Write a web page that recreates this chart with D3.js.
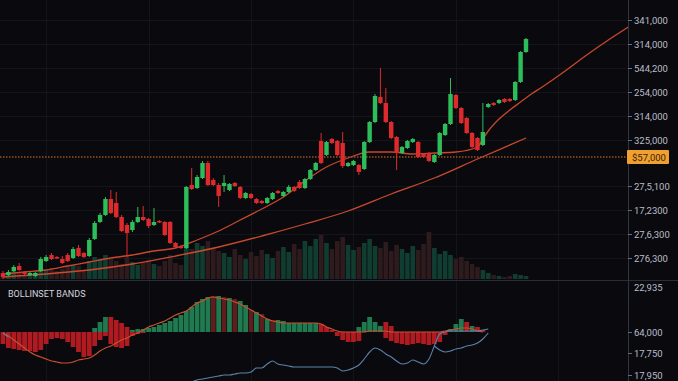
<!DOCTYPE html>
<html><head><meta charset="utf-8">
<script src="https://cdn.jsdelivr.net/npm/d3@7/dist/d3.min.js"></script>
<style>html,body{margin:0;padding:0;background:#0a0a0e;overflow:hidden}svg{display:block}</style>
</head><body>
<script>
// ---- price candles (arbitrary price units) ----
const open = [7,5,9,14,8,5,4,9,19,25, 23,21,25,22,32,27,24,41,58,65, 81,77,63,55,50,58,63,61,55,59, 58,58,37,34,32,95,92,102,117,100,
  95,94,90,97,93,82,86,81,79,77, 81,89,84,88,93,98,92,101,110,139, 125,141,139,137,114,115,115,111,138,158, 183,177,158,143,127,132,138,138,126,127,
  118,125,145,156,185,172,162,147,142,135, 173,177,177,181,181,180,198,228];
const close = [3,8,13,10,6,7,7,21,23,21, 22,17,19,31,24,23,40,57,65,81, 67,63,49,47,58,63,60,54,58,58, 45,37,33,32,93,91,103,117,95,95,
  84,97,96,94,82,87,82,77,77,82, 87,87,88,93,89,92,101,110,117,117, 138,137,125,114,117,119,108,138,158,184, 177,158,142,127,133,139,141,123,123,119,
  125,147,156,186,172,157,147,133,130,148, 176,175,180,178,179,198,228,241];
const high = [9,10,15,17,9,8,8,23,25,27, 24,24,27,33,35,28,42,59,67,83, 90,88,65,57,60,73,74,62,72,60, 59,59,38,35,94,112,105,119,119,102,
  97,105,97,98,94,88,87,82,80,83, 88,90,89,95,94,100,102,111,118,147, 139,142,140,148,118,120,116,139,159,186, 212,192,159,144,134,140,142,139,127,128,
  126,148,157,202,186,173,163,148,143,177, 177,178,181,182,182,199,229,242];
const low = [1,4,8,9,5,4,3,8,18,20, 21,16,18,21,23,22,23,40,57,64, 66,62,48,23,48,57,59,52,54,57, 44,36,32,31,31,90,91,101,94,94,
  73,88,89,93,81,81,81,76,76,76, 80,86,83,87,88,91,91,100,109,116, 124,136,124,112,113,114,105,110,137,157, 176,157,141,110,126,131,137,122,122,118,
  117,124,144,155,171,156,146,132,129,134, 172,174,176,177,178,179,197,227];
const volume = [5,6,8,7,4,5,6,12,9,11, 8,10,12,14,13,9,18,22,20,24, 20,18,15,22,17,14,16,19,15,13, 18,24,16,14,34,30,36,33,38,31,
  28,26,22,30,24,20,27,23,29,25, 21,28,32,27,35,30,38,33,40,44, 36,30,38,42,34,29,32,36,40,33, 31,37,28,34,30,26,33,29,35,47,
  31,25,28,24,20,22,18,15,12,9, 6,4,3,2,3,5,4,3];

// moving averages: candle index positions and values
const maFastAt = [0,4,8,12,16,20,24,28,32,36,40,44,48,52,56,60,64,68,72,76,80,84,88,89,90,92,94,96,98,100,104,108,112,116];
const maFast =   [6,8,10,14,18,22,25,29,32,40,49,60,71,83,99,113,122,128,128,126,127,128,133,141,149,161,170,178,186,193,208,224,239,253];
const maSlowAt = [0,8,16,24,32,40,48,56,64,72,80,88,97];
const maSlow =   [3,6,10,16,24,33,44,56,69,86,102,121,142];

const priceLine = 123;
const priceTag = "$57,000";
const priceTickValues = [260,236,212,188,164,140,94,70,46,22];
const priceTickLabels = ["341,000","314,000","544,200","254,000","314,000","325,000","27,5,100","17,2300","27,6,300","276,300"];

// ---- lower indicator panel ----
const histPos = [0,0,0,0,0,0,0,0,0,0, 0,0,0,0,0,0,0,4,10,15, 15,12,9,5,2,3,3,4,5,7, 9,11,14,17,21,25,30,33,35,36,
  36,35,34,33,31,27,22,20,18,13, 12,12,11,9,9,9,9,9,9,8, 5,2,0,0,0,0,5,10,15,10, 6,10,6,0,0,0,0,0,0,0, 0,0,0,3,8,13,10,6,5,2];
const histPosColor = "gggggggggg"+"gggggggggg"+"rrrrgggggg"+"gggggggggd"+"gdgdggdgdg"+"dggggggggr"+"rrgggggggg"+"grrggggggg"+"ggggggrgrr";
const histNeg = [12,16,17,18,19,19,20,18,12,7, 6,7,10,15,20,25,24,14,8,4, 12,15,16,14,4,2,1,0,0,0, 0,0,0,0,0,0,0,0,0,0,
  0,0,0,0,0,0,0,0,0,0, 0,0,0,0,0,0,0,0,0,0, 0,0,4,8,10,10,9,0,0,0, 0,6,9,11,12,13,12,11,12,13, 12,10,3,0,0,0,0,0,0,0];
const signal = [-1,-4,-8,-12,-16,-20,-23,-25,-27,-29, -30,-31,-31,-30,-28,-27,-26,-23,-19,-16, -14,-11,-8,-6,-3,-1,2,5,7,9,
  11,14,17,19,21,25,29,31,34,35, 34,33,32,30,28,25,22,19,16,13, 11,10,9,9,9,9,9,9,9,8, 5,3,1,0,0,0,0,0,1,1,
  1,1,0,0,0,0,0,0,0,0, 0,0,1,2,3,4,4,3,1,0];
const N = null;
const bandLine = [-1,-5,N,N,N,N,N,N,N,N, N,N,N,N,N,N,N,N,N,N, N,N,N,N,N,N,N,N,N,N, N,N,N,N,-52,-50,-48,-47,-46,-45,
  -44,-43,-43,-42,-41,-41,-40,-36,-36,-32, -29,-32,-33,-34,-35,-35,-35,-35,-35,-35, -35,-35,-36,-39,-38,-36,-33,-27,-20,-16,
  -18,-22,-25,-29,-32,-31,-28,-30,-32,-27, -14,-2,0,1,1,1,1,1,1,2, 3];
const bandTailStart = 80;
const bandTail = [-14,-18,-20,-19,-17,-16,-14,-13,-11,-7,-1];
const lowerTickValues = [45,0,-21,-43];
const lowerTickLabels = ["22,935","64,000","17,750","17,950"];
const lowerTitle = "BOLLINSET BANDS";

// ---- drawing ----
const W = 678, H = 381, axisX = 628, sepY = 280;
const svg = d3.select("body").append("svg").attr("width", W).attr("height", H);
svg.append("rect").attr("width", W).attr("height", H).attr("fill", "#0a0a0e");

const x = d3.scaleLinear().domain([0, open.length - 1]).range([3, 526]);
const y = d3.scaleLinear().domain([0, 280]).range([280, 0]);
const yVol = d3.scaleLinear().domain([0, 50]).range([279, 229]);
const yLow = d3.scaleLinear().domain([-50, 50]).range([382, 282]);
const step = x(1) - x(0);

const defs = svg.append("defs");
defs.append("clipPath").attr("id", "cm").append("rect").attr("x", 0).attr("y", 0).attr("width", axisX).attr("height", sepY - 1);
defs.append("clipPath").attr("id", "cl").append("rect").attr("x", 0).attr("y", sepY + 1).attr("width", axisX).attr("height", H - sepY);

// grid
const grid = svg.append("g").attr("stroke", "#14151b").attr("stroke-width", 1);
d3.range(8, 117, 19).forEach(i => grid.append("line").attr("x1", Math.round(x(i)) + .5).attr("x2", Math.round(x(i)) + .5).attr("y1", 0).attr("y2", H));
priceTickValues.forEach(v => grid.append("line").attr("x1", 0).attr("x2", axisX).attr("y1", Math.round(y(v)) + .5).attr("y2", Math.round(y(v)) + .5));

const main = svg.append("g").attr("clip-path", "url(#cm)");
const idx = d3.range(open.length);

// volume
main.append("g").selectAll("rect").data(idx).join("rect")
  .attr("x", i => x(i) - step / 2 + 0.4).attr("width", step - 0.8)
  .attr("y", i => yVol(volume[i])).attr("height", i => yVol(0) - yVol(volume[i]))
  .attr("fill", i => close[i] >= open[i] ? "#113d30" : "#2e1b1d");

// horizontal price line
main.append("line").attr("x1", 0).attr("x2", axisX).attr("y1", y(priceLine)).attr("y2", y(priceLine))
  .attr("stroke", "#d9742c").attr("stroke-width", 1).attr("stroke-dasharray", "1.5,1.5");

// moving averages
const lineGen = (xs, vs) => d3.line().x((d, k) => x(xs[k])).y(d => y(d)).curve(d3.curveMonotoneX)(vs);
main.append("path").attr("d", lineGen(maSlowAt, maSlow)).attr("fill", "none").attr("stroke", "#c94a2f").attr("stroke-width", 1.3);
main.append("path").attr("d", lineGen(maFastAt, maFast)).attr("fill", "none").attr("stroke", "#c8472d").attr("stroke-width", 1.3);

// candles
const up = "#2dbd5a", dn = "#dd2a2c";
const cg = main.append("g");
cg.selectAll("line").data(idx).join("line")
  .attr("x1", i => x(i)).attr("x2", i => x(i))
  .attr("y1", i => y(high[i])).attr("y2", i => y(low[i]))
  .attr("stroke", i => close[i] >= open[i] ? up : dn).attr("stroke-width", 1);
cg.selectAll("rect").data(idx).join("rect")
  .attr("x", i => x(i) - 2.2).attr("width", 4.4)
  .attr("y", i => y(Math.max(open[i], close[i])))
  .attr("height", i => Math.max(1.5, Math.abs(y(open[i]) - y(close[i]))))
  .attr("fill", i => close[i] >= open[i] ? up : dn);

// lower panel
const low_g = svg.append("g").attr("clip-path", "url(#cl)");
const hIdx = d3.range(histPos.length);
const colMap = {g: "#1f7a4f", r: "#b01b22", d: "#5e1e1e"};
low_g.append("g").selectAll("rect").data(hIdx.filter(i => histPos[i] > 0)).join("rect")
  .attr("x", i => x(i) - step / 2 + 0.3).attr("width", step - 0.6)
  .attr("y", i => yLow(histPos[i])).attr("height", i => yLow(0) - yLow(histPos[i]))
  .attr("fill", i => colMap[histPosColor[i]]);
low_g.append("g").selectAll("rect").data(hIdx.filter(i => histNeg[i] > 0)).join("rect")
  .attr("x", i => x(i) - step / 2 + 0.3).attr("width", step - 0.6)
  .attr("y", yLow(0)).attr("height", i => yLow(-histNeg[i]) - yLow(0))
  .attr("fill", "#b01b22");
low_g.append("path").attr("d", d3.line().x((d, i) => x(i)).y(d => yLow(d)).curve(d3.curveMonotoneX)(signal))
  .attr("fill", "none").attr("stroke", "#c9502f").attr("stroke-width", 1.2);
low_g.append("path").attr("d", d3.line().defined(d => d !== null).x((d, i) => x(i)).y(d => yLow(d)).curve(d3.curveMonotoneX)(bandLine))
  .attr("fill", "none").attr("stroke", "#5a82ad").attr("stroke-width", 1.1);
low_g.append("path").attr("d", d3.line().x((d, i) => x(i + bandTailStart)).y(d => yLow(d)).curve(d3.curveMonotoneX)(bandTail))
  .attr("fill", "none").attr("stroke", "#5a82ad").attr("stroke-width", 1.1);

// separators and axis line
svg.append("line").attr("x1", 0).attr("x2", W).attr("y1", sepY + .5).attr("y2", sepY + .5).attr("stroke", "#2a2d3a");
svg.append("line").attr("x1", axisX + .5).attr("x2", axisX + .5).attr("y1", 0).attr("y2", H).attr("stroke", "#2f3342");

// axes
const fmtFrom = (vals, labels) => v => labels[vals.indexOf(v)];
const axisMain = svg.append("g").attr("transform", `translate(${axisX},0)`)
  .call(d3.axisRight(y).tickValues(priceTickValues).tickFormat(fmtFrom(priceTickValues, priceTickLabels)).tickSize(4).tickPadding(2));
const axisLow = svg.append("g").attr("transform", `translate(${axisX},0)`)
  .call(d3.axisRight(yLow).tickValues(lowerTickValues).tickFormat(fmtFrom(lowerTickValues, lowerTickLabels)).tickSize(4).tickPadding(2));
[axisMain, axisLow].forEach(a => {
  a.select(".domain").remove();
  a.selectAll("line").attr("stroke", "#6a6e7c");
  a.selectAll("text").attr("fill", "#b9bdc9").style("font-family", "Roboto, 'DejaVu Sans', sans-serif").style("font-size", "9.5px");
});
axisLow.selectAll(".tick").filter(v => v === 45).select("line").remove();

// price tag
const tag = svg.append("g").attr("transform", `translate(${axisX - 1},${y(priceLine)})`);
tag.append("rect").attr("x", 0).attr("y", -7).attr("width", 42).attr("height", 14).attr("rx", 1).attr("fill", "#f0a02e");
tag.append("text").attr("x", 5).attr("y", 3.5).text(priceTag).attr("fill", "#3b2106")
  .style("font-family", "Roboto, 'DejaVu Sans', sans-serif").style("font-size", "9.5px");

// lower title
svg.append("text").attr("x", 8).attr("y", 297).text(lowerTitle).attr("fill", "#d4d6de")
  .style("font-family", "Roboto, 'DejaVu Sans', sans-serif").style("font-size", "9px");
</script>
</body></html>
